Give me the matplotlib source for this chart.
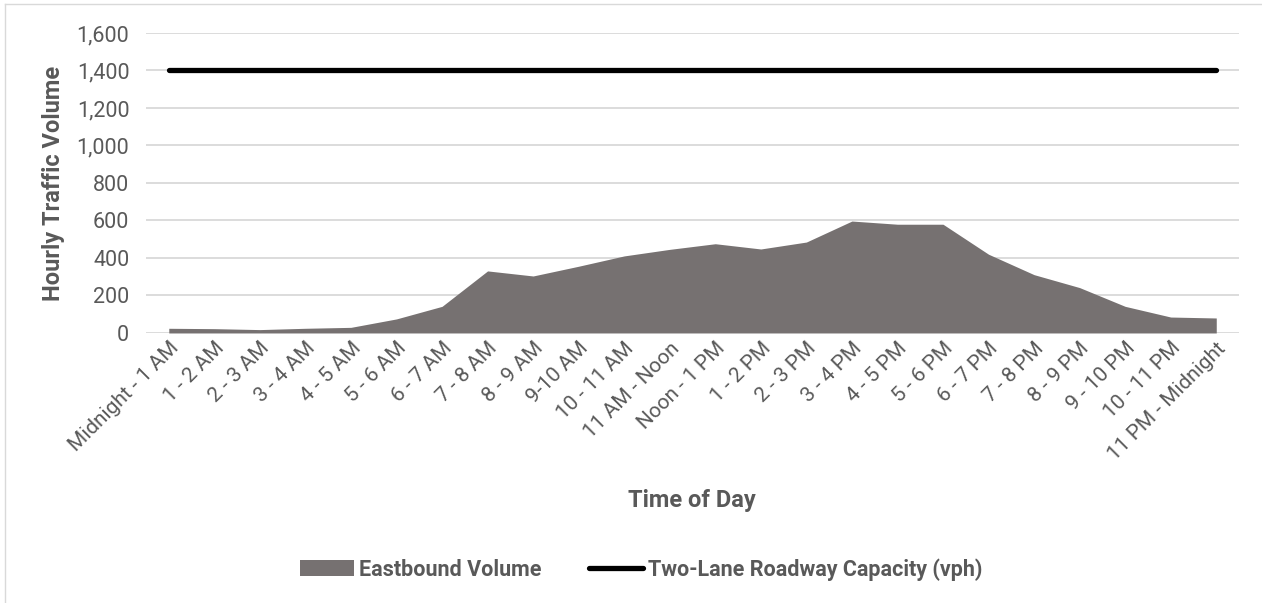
import matplotlib.pyplot as plt
from matplotlib.lines import Line2D
from matplotlib.patches import Patch
from matplotlib.ticker import FuncFormatter

plt.rcParams['font.family'] = ['Roboto', 'DejaVu Sans']

hours = ['Midnight - 1 AM', '1 - 2 AM', '2 - 3 AM', '3 - 4 AM', '4 - 5 AM',
         '5 - 6 AM', '6 - 7 AM', '7 - 8 AM', '8 - 9 AM', '9-10 AM',
         '10 - 11 AM', '11 AM - Noon', 'Noon - 1 PM', '1 - 2 PM', '2 - 3 PM',
         '3 - 4 PM', '4 - 5 PM', '5 - 6 PM', '6 - 7 PM', '7 - 8 PM',
         '8 - 9 PM', '9 - 10 PM', '10 - 11 PM', '11 PM - Midnight']
eastbound = [25, 23, 18, 25, 30, 75, 142, 331, 304, 356, 411, 446,
             476, 448, 485, 597, 580, 580, 420, 311, 242, 142, 85, 80]
capacity = [1400] * len(hours)

text_gray = '#595959'
grid_gray = '#d9d9d9'
area_gray = '#767171'

fig = plt.figure(figsize=(12.62, 6.03), dpi=100)
ax = fig.add_axes([0.1157, 0.4478, 0.8661, 0.4975])

x = list(range(len(hours)))
ax.fill_between(x, 0, eastbound, color=area_gray, linewidth=0, zorder=2)
ax.plot(x, capacity, color='black', linewidth=3.8, solid_capstyle='round', zorder=3)

ax.set_xlim(-0.5, len(hours) - 0.5)
ax.set_ylim(0, 1600)
ax.set_yticks(range(0, 1601, 200))
ax.yaxis.set_major_formatter(FuncFormatter(lambda v, p: f'{int(v):,}'))
ax.grid(axis='y', color=grid_gray, linewidth=1.3, zorder=0)
ax.set_axisbelow(True)
for s in ax.spines.values():
    s.set_visible(False)

ax.set_xticks(x)
ax.set_xticklabels(hours, rotation=45, ha='right', rotation_mode='anchor',
                   fontsize=15, color=text_gray)
ax.tick_params(axis='both', length=0, colors=text_gray)
ax.tick_params(axis='y', labelsize=15.5, pad=12)
ax.tick_params(axis='x', pad=4)

ax.set_ylabel('Hourly Traffic Volume', fontsize=17, fontweight='bold',
              color=text_gray, labelpad=8)
fig.text(0.548, 0.170, 'Time of Day', fontsize=17, fontweight='bold',
         color=text_gray, ha='center', va='center')

handles = [Patch(facecolor=area_gray, edgecolor='none'),
           Line2D([0], [0], color='black', linewidth=3.8, solid_capstyle='round')]
fig.legend(handles, ['Eastbound Volume', 'Two-Lane Roadway Capacity (vph)'],
           loc='center', bbox_to_anchor=(0.508, 0.056), ncol=2, frameon=False,
           prop={'size': 15.5, 'weight': 'bold'}, labelcolor=text_gray,
           handlelength=2.5, handletextpad=0.25, columnspacing=2.2)

# thin frame along the top and left of the figure
fig.add_artist(Line2D([0.004, 1.0], [0.993, 0.993], color=grid_gray, linewidth=1))
fig.add_artist(Line2D([0.004, 0.004], [0.0, 0.993], color=grid_gray, linewidth=1))

fig.savefig('out.png', dpi=100)
